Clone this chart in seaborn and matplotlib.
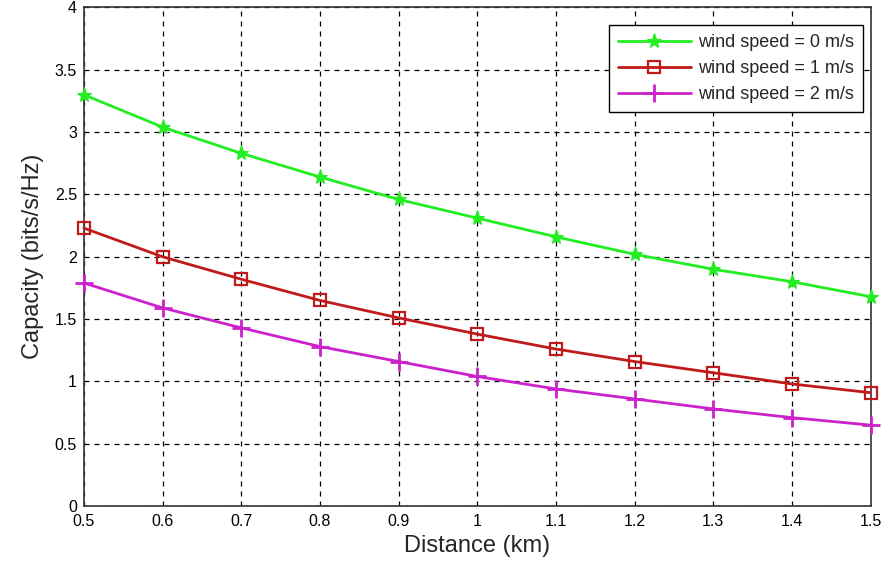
import matplotlib
matplotlib.use("Agg")
import matplotlib.pyplot as plt
import seaborn as sns
import pandas as pd

distance = [0.5, 0.6, 0.7, 0.8, 0.9, 1.0, 1.1, 1.2, 1.3, 1.4, 1.5]
cap_ws0 = [3.30, 3.04, 2.83, 2.64, 2.46, 2.31, 2.16, 2.02, 1.90, 1.80, 1.68]
cap_ws1 = [2.23, 2.00, 1.82, 1.65, 1.51, 1.38, 1.26, 1.16, 1.07, 0.98, 0.91]
cap_ws2 = [1.79, 1.59, 1.43, 1.28, 1.16, 1.04, 0.94, 0.86, 0.78, 0.71, 0.65]
labels = ["wind speed = 0 m/s", "wind speed = 1 m/s", "wind speed = 2 m/s"]
xticks = [0.5, 0.6, 0.7, 0.8, 0.9, 1.0, 1.1, 1.2, 1.3, 1.4, 1.5]
xticklabels = ["0.5", "0.6", "0.7", "0.8", "0.9", "1", "1.1", "1.2", "1.3", "1.4", "1.5"]
yticks = [0, 0.5, 1, 1.5, 2, 2.5, 3, 3.5, 4]
yticklabels = ["0", "0.5", "1", "1.5", "2", "2.5", "3", "3.5", "4"]

sns.set_style("white")
plt.rcParams['font.family'] = ['Liberation Sans', 'DejaVu Sans']

fig = plt.figure(figsize=(8.83, 5.70), dpi=100)
ax = fig.add_axes([0.095, 0.112, 0.891, 0.875])

styles = [
    dict(color="#22ee22", marker="*", markersize=11, markerfacecolor="#22ee22", markeredgecolor="#22ee22"),
    dict(color="#c01a1a", marker="s", markersize=9, markerfacecolor="none", markeredgecolor="#c01a1a", markeredgewidth=1.6),
    dict(color="#cc22cc", marker="+", markersize=13, markeredgewidth=2, markeredgecolor="#cc22cc"),
]
for ys, lab, st in zip([cap_ws0, cap_ws1, cap_ws2], labels, styles):
    df = pd.DataFrame({"Distance": distance, "Capacity": ys})
    sns.lineplot(data=df, x="Distance", y="Capacity", ax=ax, label=lab, linewidth=2,
                 clip_on=False, zorder=5, **st)

ax.set_xlim(0.5, 1.5)
ax.set_ylim(0, 4)
ax.set_xticks(xticks)
ax.set_xticklabels(xticklabels)
ax.set_yticks(yticks)
ax.set_yticklabels(yticklabels)
ax.tick_params(direction="in", length=5, labelsize=11.5, colors="#222222", width=1)
ax.tick_params(axis="x", pad=6)
ax.tick_params(axis="y", pad=5)
for lab in ax.get_xticklabels() + ax.get_yticklabels():
    lab.set_color("black")
ax.grid(True, color="black", linestyle=(0, (4, 4)), linewidth=0.9)
for sp in ax.spines.values():
    sp.set_color("#333333")
    sp.set_linewidth(1.2)
ax.set_xlabel("Distance (km)", fontsize=17, labelpad=4)
ax.set_ylabel("Capacity (bits/s/Hz)", fontsize=17, labelpad=8)

leg = ax.legend(loc="upper right", bbox_to_anchor=(0.99, 0.965), borderaxespad=0,
                frameon=True, fancybox=False,
                edgecolor="black", framealpha=1, borderpad=0.5, handlelength=4.0,
                handletextpad=0.4, labelspacing=0.5,
                prop={'size': 13})
leg.get_frame().set_linewidth(1)

fig.savefig("out.png", dpi=100)
